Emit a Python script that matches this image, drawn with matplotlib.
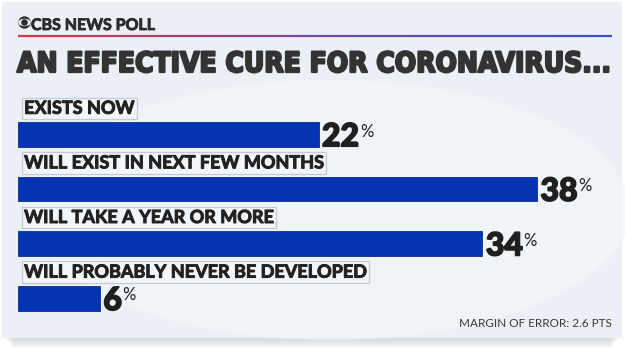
import numpy as np
import matplotlib
matplotlib.use("Agg")
import matplotlib.pyplot as plt
import matplotlib.patheffects as pe
from matplotlib.patches import Rectangle, Circle, Ellipse
from matplotlib.collections import LineCollection
from matplotlib import font_manager
from matplotlib.font_manager import FontProperties

# data
categories = ["EXISTS NOW", "WILL EXIST IN NEXT FEW MONTHS",
              "WILL TAKE A YEAR OR MORE", "WILL PROBABLY NEVER BE DEVELOPED"]
values = [22, 38, 34, 6]
title = "AN EFFECTIVE CURE FOR CORONAVIRUS..."
brand = "CBS NEWS POLL"
note = "MARGIN OF ERROR: 2.6 PTS"

names = {f.name for f in font_manager.fontManager.ttflist}
heavy = "Lato" if "Lato" in names else "DejaVu Sans"

# condensed face for the title if there is one
cond_path = font_manager.findfont(FontProperties(family="DejaVu Sans", weight="bold",
                                                 stretch="condensed"))
if "Condensed" in cond_path:
    title_fp = FontProperties(fname=cond_path)
else:
    title_fp = FontProperties(family=heavy, weight="black")


def thick(c, w):
    # fake a heavier weight
    return [pe.withStroke(linewidth=w, foreground=c)]


W, H = 625, 352
fig = plt.figure(figsize=(W / 100, H / 100), dpi=100)
fig.patch.set_facecolor("white")

# background / decoration axes in pixel units
bg = fig.add_axes([0, 0, 1, 1])
bg.set_xlim(0, W)
bg.set_ylim(H, 0)
bg.axis("off")

# card shadow + card
for k in range(8):
    bg.add_patch(Rectangle((6 + k, 330), 612 - 2 * k, 10 + k * 1.2,
                           color="#9aa3ad", alpha=0.05, lw=0))
bg.add_patch(Rectangle((2, 2), 620, 336, color="#eaf0f5", lw=0))
bg.add_patch(Ellipse((330, 210), 600, 260, color="#f2f6f9", lw=0, alpha=0.7))

# gradient rule under the brand
xs = np.linspace(18, 612, 120)
segs = [[(xs[i], 36), (xs[i + 1], 36)] for i in range(len(xs) - 1)]
cols = plt.cm.colors.LinearSegmentedColormap.from_list(
    "rb", ["#e0353b", "#7a4aa0", "#3a4fc8"])(np.linspace(0, 1, len(segs)))
bg.add_collection(LineCollection(segs, colors=cols, linewidths=1.6))

# CBS eye
bg.add_patch(Circle((24.5, 22.5), 6.2, color="#2b2b2b", lw=0))
bg.add_patch(Ellipse((24.5, 22.5), 12.4, 7.5, color="#eaf0f5", lw=0))
bg.add_patch(Circle((24.5, 22.5), 3.3, color="#2b2b2b", lw=0))

bg.text(31, 30, brand, fontsize=11.5, fontweight="bold", family=[heavy, "DejaVu Sans"],
        color="#2b2b2b", va="baseline", ha="left", path_effects=thick("#2b2b2b", 0.6))
tt = bg.text(17, 72, title, fontproperties=title_fp, fontsize=29,
             color="#333333", va="baseline", ha="left", path_effects=thick("#333333", 1.6))
# fit title to the rule width
r = fig.canvas.get_renderer()
w = tt.get_window_extent(r).width
tt.set_fontsize(29 * 594 / w)

bg.text(612, 327, note, fontsize=8.5, family=[heavy, "DejaVu Sans"],
        color="#3a3a3a", va="baseline", ha="right")

# bars axes
px_unit = 13.66
ax = fig.add_axes([18 / W, 1 - 325.6 / H, 44 * px_unit / W, (325.6 - 107.2) / H])
ax.set_xlim(0, 44)
ax.set_ylim(3.5, -0.5)
ax.axis("off")

ypos = np.arange(len(values))
ax.barh(ypos, values, height=0.45, color="#0433b3", edgecolor="#0a2c99", lw=0.6)

for y, cat, v in zip(ypos, categories, values):
    ax.text(0.45, y - 0.48, cat, fontsize=13, fontweight="bold",
            family=[heavy, "DejaVu Sans"], color="#222222", va="center", ha="left",
            path_effects=thick("#222222", 0.7),
            bbox=dict(boxstyle="square,pad=0.12", fc="#f3f6f9", ec="#c3ccd6", lw=0.9))
    t = ax.text(v + 0.25, y + 0.215, str(v), fontsize=23, fontweight="black",
                family=[heavy, "DejaVu Sans"], color="#1f1f1f", va="baseline", ha="left",
                path_effects=thick("#1f1f1f", 1.2))
    ax.annotate("%", xy=(1, 1), xycoords=t, xytext=(0.5, -1), textcoords="offset points",
                fontsize=12, family=[heavy, "DejaVu Sans"], color="#1f1f1f",
                va="top", ha="left")

fig.savefig("out.png", dpi=100)
